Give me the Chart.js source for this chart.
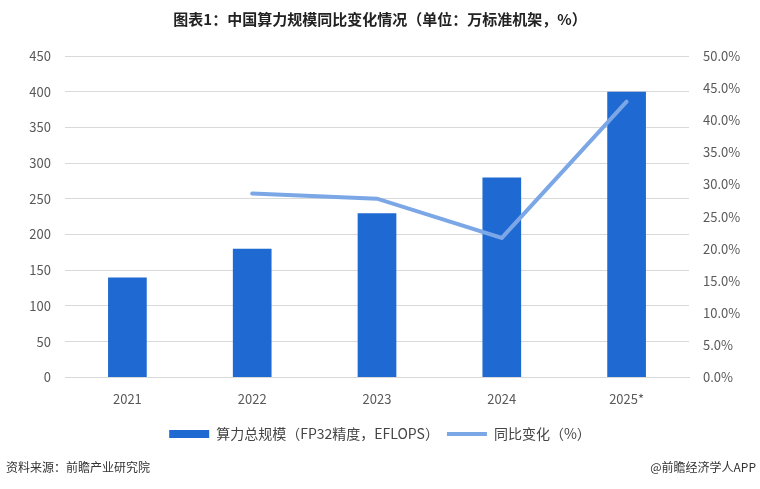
<!DOCTYPE html>
<html>
<head>
<meta charset="utf-8">
<script src="https://cdn.jsdelivr.net/npm/chart.js@4.4.1/dist/chart.umd.min.js"></script>
<style>
  html, body { margin: 0; padding: 0; background: #fff; }
  #wrap { width: 760px; height: 489px; position: relative; }
</style>
</head>
<body>
<div id="wrap"><canvas id="chart" width="760" height="489"></canvas></div>
<script>
// values
const years = ['2021', '2022', '2023', '2024', '2025*'];
const computeScale = [140, 180, 230, 280, 400];
const yoyChange = [null, 28.6, 27.8, 21.7, 42.9];

const barLabel = '算力总规模（FP32精度，EFLOPS）';
const lineLabel = '同比变化（%）';
const titleText = '图表1：中国算力规模同比变化情况（单位：万标准机架，%）';
const sourceText = '资料来源：前瞻产业研究院';
const brandText = '@前瞻经济学人APP';

const fontFamily = '"Noto Sans CJK SC", "Noto Sans", sans-serif';
const tickColor = '#595959';

// footer lines drawn at the bottom of the canvas
const footerPlugin = {
    id: 'footer',
    afterDraw(chart) {
        const ctx = chart.ctx;
        ctx.save();
        ctx.font = '12px ' + fontFamily;
        ctx.fillStyle = '#333';
        ctx.textBaseline = 'middle';
        ctx.textAlign = 'left';
        ctx.fillText(sourceText, 6, 467);
        ctx.textAlign = 'right';
        ctx.fillText(brandText, 756, 467);
        ctx.restore();
    }
};

new Chart(document.getElementById('chart'), {
    type: 'bar',
    data: {
        labels: years,
        datasets: [
            {
                type: 'line',
                label: lineLabel,
                data: yoyChange,
                yAxisID: 'y1',
                borderColor: '#7BA7E6',
                backgroundColor: '#7BA7E6',
                borderWidth: 4,
                pointRadius: 0,
                pointStyle: 'line',
                borderCapStyle: 'round',
                tension: 0,
                order: 0
            },
            {
                label: barLabel,
                data: computeScale,
                yAxisID: 'y',
                backgroundColor: '#1F69D2',
                pointStyle: 'rect',
                barPercentage: 0.31,
                categoryPercentage: 1.0,
                order: 1
            }
        ]
    },
    options: {
        responsive: false,
        animation: false,
        layout: {padding: {top: 8, bottom: 38, left: 0, right: 0}},
        plugins: {
            title: {
                display: true,
                text: titleText,
                color: '#222',
                font: {family: fontFamily, size: 15, weight: 'bold'},
                padding: {top: 2, bottom: 28}
            },
            legend: {
                position: 'bottom',
                reverse: true,
                labels: {
                    color: '#444',
                    font: {family: fontFamily, size: 14},
                    usePointStyle: true,
                    pointStyleWidth: 40,
                    boxHeight: 8,
                    padding: 8
                }
            },
            tooltip: {enabled: false}
        },
        scales: {
            x: {
                grid: {display: false},
                border: {color: '#D9D9D9'},
                ticks: {color: tickColor, font: {family: fontFamily, size: 13}, padding: 6},
                afterFit(scale) { scale.height += 6; }
            },
            y: {
                position: 'left',
                min: 0, max: 450,
                ticks: {stepSize: 50, color: tickColor, font: {family: fontFamily, size: 13}, padding: 14},
                grid: {color: '#D9D9D9', drawTicks: false},
                border: {display: false},
                afterFit(scale) { scale.width = 65; }
            },
            y1: {
                position: 'right',
                min: 0, max: 50,
                ticks: {
                    stepSize: 5,
                    color: tickColor,
                    font: {family: fontFamily, size: 13},
                    padding: 14,
                    callback: v => v.toFixed(1) + '%'
                },
                grid: {display: false, drawTicks: false},
                border: {display: false},
                afterFit(scale) { scale.width = 71; }
            }
        }
    },
    plugins: [footerPlugin]
});
</script>
</body>
</html>
